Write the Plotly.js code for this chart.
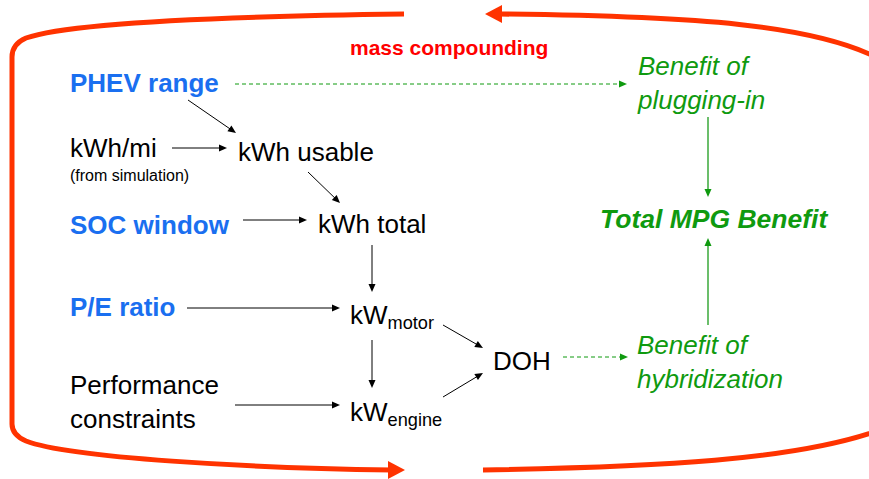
<!DOCTYPE html>
<html>
<head>
<meta charset="utf-8">
<script src="https://cdn.plot.ly/plotly-3.0.1.min.js"></script>
<style>html,body{margin:0;padding:0;background:#fff;}#chart{width:869px;height:479px;}</style>
</head>
<body>
<div id="chart"></div>
<script>
// ---- node labels (text, anchor position, style) ----
const nodeText = ['mass compounding','PHEV range','kWh/mi','(from simulation)','kWh usable','SOC window','kWh total','P/E ratio','kW<sub>motor</sub>','DOH','Performance<br>constraints','kW<sub>engine</sub>','Benefit of<br>plugging-in','Total MPG Benefit','Benefit of<br>hybridization'];
const nodeX    = [449, 69, 69, 69, 237, 69, 317, 69, 349, 492, 69, 349, 636, 599, 636];
const nodeY    = [47, 83, 148, 175, 152, 225, 224, 307, 316, 361, 402, 413, 83, 219, 362];
const nodeKind = ['red','blue','black','small','black','blue','black','blue','black','black','black','black','green','greenbold','green'];

// ---- arrows: start (x0,y0) -> tip (x1,y1) ----
const arrowX0 = [188, 172, 308, 243, 372, 187, 372, 235, 443, 443];
const arrowY0 = [100, 148, 172, 220, 245, 308, 340, 405, 325, 397];
const arrowX1 = [236, 227, 340, 307, 372, 340, 372, 340, 483, 483];
const arrowY1 = [133, 148, 203, 220, 292, 308, 388, 405, 348, 373];
// green arrows
const gArrowX0 = [235, 563, 708, 708];
const gArrowY0 = [84, 357, 117, 325];
const gArrowX1 = [627, 628, 708, 708];
const gArrowY1 = [84, 357, 197, 238];
const gArrowDash = ['dash','dash','solid','solid'];

// ---- mass-compounding loop (red) ----
const loopPaths = [
  'M 404,14 C 250,16 70,22 26,38 Q 12,44 12,57 L 12,424 Q 12,435 26,441 C 70,458 250,468 392,470',
  'M 499,14 C 690,16 820,24 885,62',
  'M 483,470 C 650,467 800,461 885,428'
];
const loopHeadTip = [[405,470],[485,14]];
const loopHeadDir = [1,-1];

const RED='#ff3300', GREEN='#0f9a0f', GREEN_LINE='#3aa83a', BLUE='#1a6ff0';
const FONT='Arial, "Liberation Sans", sans-serif';

const styles = {
  red:{size:21,color:'#ff0000',pre:'<b>',post:'</b>'},
  blue:{size:26,color:BLUE,pre:'<b>',post:'</b>'},
  black:{size:26,color:'#000',pre:'',post:''},
  small:{size:16,color:'#000',pre:'',post:''},
  green:{size:26,color:GREEN,pre:'<i>',post:'</i>'},
  greenbold:{size:26.5,color:GREEN,pre:'<b><i>',post:'</i></b>'}
};

const annotations = nodeText.map((t,i)=>{
  const s = styles[nodeKind[i]];
  return {x:nodeX[i], y:nodeY[i], xref:'x', yref:'y', text:s.pre+t+s.post,
    showarrow:false, xanchor: i===0?'center':'left', yanchor:'middle', align:'left',
    font:{family:FONT,size:s.size,color:s.color}, borderpad:0};
});

function head(x0,y0,x1,y1,len,hw){
  const dx=x1-x0, dy=y1-y0, L=Math.hypot(dx,dy), ux=dx/L, uy=dy/L;
  const bx=x1-ux*len, by=y1-uy*len;
  return `M ${x1},${y1} L ${bx-uy*hw},${by+ux*hw} L ${bx+uy*hw},${by-ux*hw} Z`;
}

const shapes = [];
for (let i=0;i<arrowX0.length;i++){
  const dx=arrowX1[i]-arrowX0[i], dy=arrowY1[i]-arrowY0[i], L=Math.hypot(dx,dy);
  shapes.push({type:'line',xref:'x',yref:'y',x0:arrowX0[i],y0:arrowY0[i],x1:arrowX1[i]-dx/L*6,y1:arrowY1[i]-dy/L*6,line:{color:'#000',width:1}});
  shapes.push({type:'path',xref:'x',yref:'y',path:head(arrowX0[i],arrowY0[i],arrowX1[i],arrowY1[i],8,3.5),fillcolor:'#000',line:{width:0}});
}
for (let i=0;i<gArrowX0.length;i++){
  const dx=gArrowX1[i]-gArrowX0[i], dy=gArrowY1[i]-gArrowY0[i], L=Math.hypot(dx,dy);
  const solid = gArrowDash[i]==='solid';
  shapes.push({type:'line',xref:'x',yref:'y',x0:gArrowX0[i],y0:gArrowY0[i],x1:gArrowX1[i]-dx/L*6,y1:gArrowY1[i]-dy/L*6,
    line:{color:solid?GREEN_LINE:GREEN,width:solid?1.5:1,dash:solid?'solid':'4px,3px'}});
  shapes.push({type:'path',xref:'x',yref:'y',path:head(gArrowX0[i],gArrowY0[i],gArrowX1[i],gArrowY1[i],8,3.5),fillcolor:GREEN,line:{width:0}});
}
loopPaths.forEach(p=>shapes.push({type:'path',xref:'x',yref:'y',path:p,line:{color:RED,width:5}}));
loopHeadTip.forEach((t,i)=>{
  const d=loopHeadDir[i];
  shapes.push({type:'path',xref:'x',yref:'y',path:`M ${t[0]},${t[1]} L ${t[0]-d*17},${t[1]-9} L ${t[0]-d*17},${t[1]+9} Z`,fillcolor:RED,line:{width:0}});
});

const layout = {
  width:869, height:479, margin:{l:0,r:0,t:0,b:0},
  paper_bgcolor:'#fff', plot_bgcolor:'#fff', showlegend:false,
  xaxis:{range:[0,869],visible:false,fixedrange:true},
  yaxis:{range:[479,0],visible:false,fixedrange:true},
  annotations, shapes
};
Plotly.newPlot('chart',[{x:[],y:[],type:'scatter',mode:'lines',hoverinfo:'skip'}],layout,{staticPlot:true,displayModeBar:false});
</script>
</body>
</html>
